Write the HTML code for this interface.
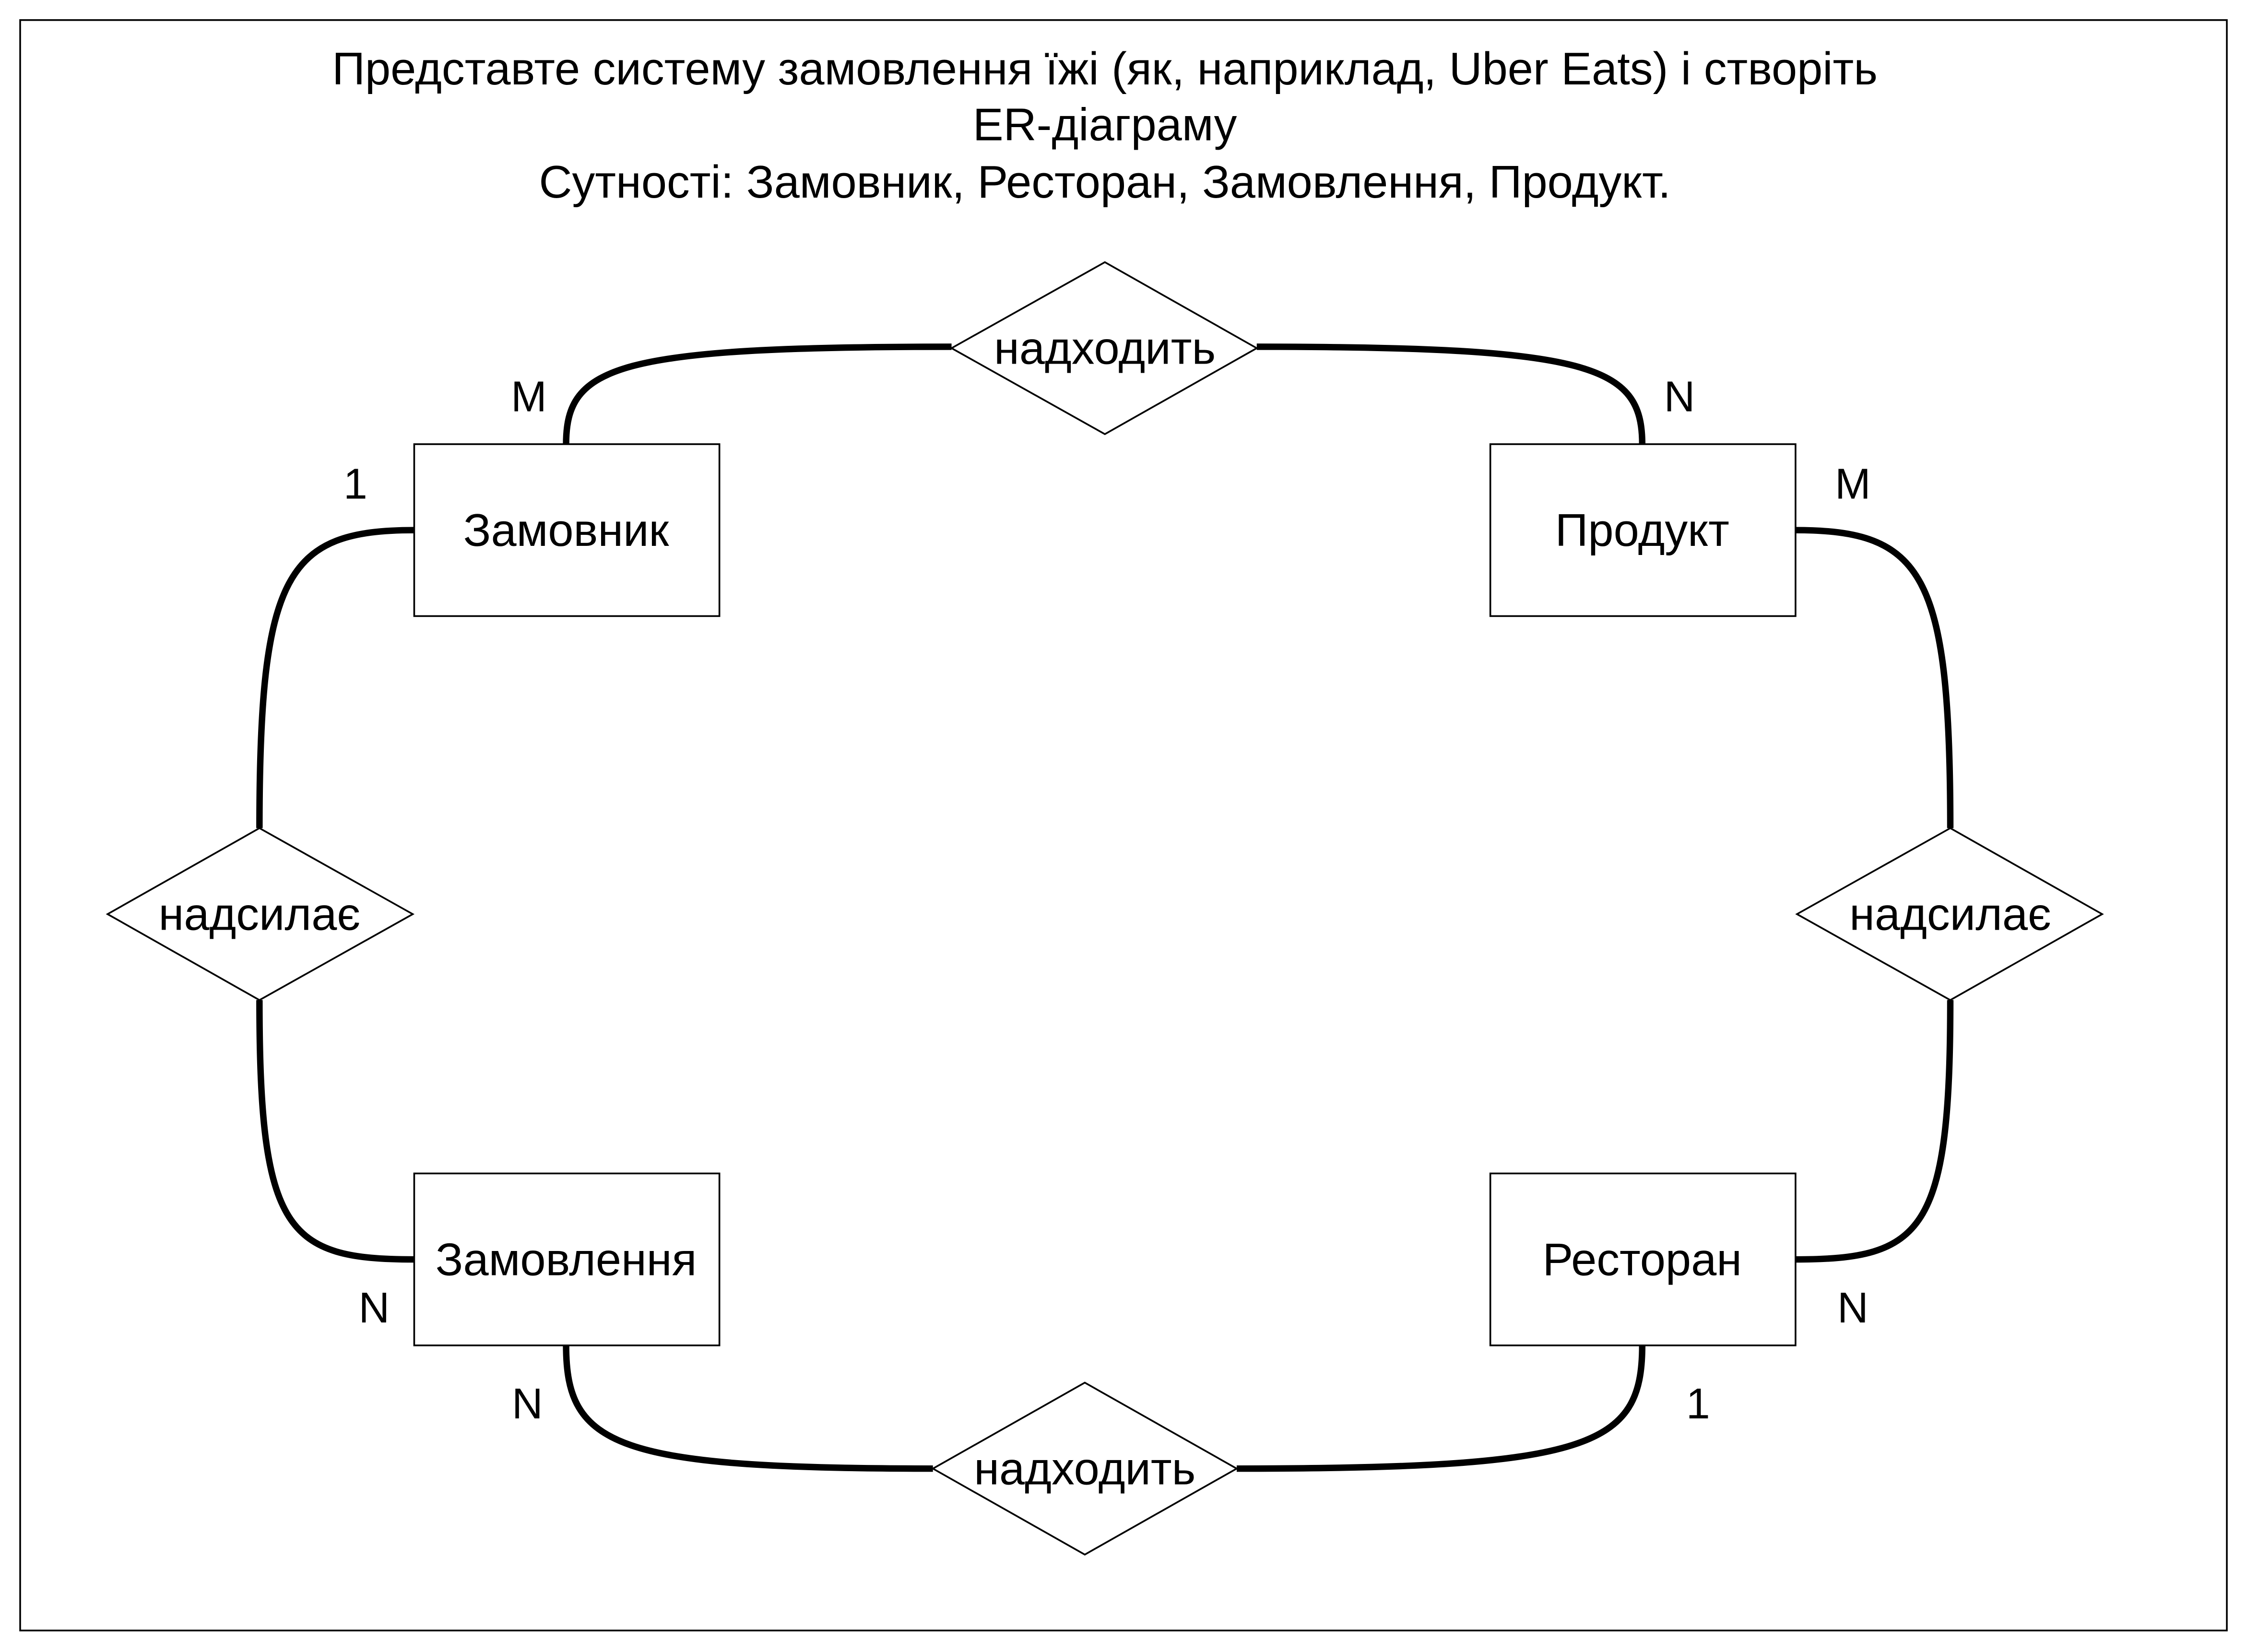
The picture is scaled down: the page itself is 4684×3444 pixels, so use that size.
<!DOCTYPE html>
<html><head><meta charset="utf-8"><style>html,body{margin:0;padding:0;background:#fff}svg{display:block}</style></head>
<body>
<svg width="4684" height="3444" viewBox="0 0 1568 1153" xmlns="http://www.w3.org/2000/svg" font-family="Liberation Sans, DejaVu Sans, sans-serif">
<rect x="0" y="0" width="1568" height="1153" fill="#fff"/>
<rect x="14" y="14" width="1540" height="1124" fill="none" stroke="#000" stroke-width="1.2"/>
<g font-size="32" text-anchor="middle" fill="#000">
<text x="771" y="59">Представте систему замовлення їжі (як, наприклад, Uber Eats) і створіть</text>
<text x="771" y="98">ER-діаграму</text>
<text x="771" y="138">Сутності: Замовник, Ресторан, Замовлення, Продукт.</text>
</g>
<g fill="none" stroke="#000" stroke-width="4.5">
<path d="M395,310 C395,255 430,242 664,242"/>
<path d="M877,242 C1110,242 1146,255 1146,310"/>
<path d="M289,370 C200,370 181,400 181,578"/>
<path d="M181,698 C181,860 200,879 289,879"/>
<path d="M1253,370 C1342,370 1361,400 1361,578"/>
<path d="M1361,698 C1361,860 1342,879 1253,879"/>
<path d="M395,939 C395,1010 430,1025 651,1025"/>
<path d="M863,1025 C1110,1025 1146,1010 1146,939"/>
</g>
<g fill="#fff" stroke="#000" stroke-width="1.2">
<rect x="289" y="310" width="213" height="120"/>
<rect x="1040" y="310" width="213" height="120"/>
<rect x="289" y="819" width="213" height="120"/>
<rect x="1040" y="819" width="213" height="120"/>
<polygon points="771,183 877,243 771,303 664,243"/>
<polygon points="757,965 863,1025 757,1085 651,1025"/>
<polygon points="181,578 288,638 181,698 75,638"/>
<polygon points="1361,578 1467,638 1361,698 1254,638"/>
</g>
<g font-size="32" text-anchor="middle" fill="#000">
<text x="395" y="381">Замовник</text>
<text x="1146" y="381">Продукт</text>
<text x="395" y="890">Замовлення</text>
<text x="1146" y="890">Ресторан</text>
<text x="771" y="254">надходить</text>
<text x="757" y="1036">надходить</text>
<text x="181" y="649">надсилає</text>
<text x="1361" y="649">надсилає</text>
</g>
<g font-size="30" text-anchor="middle" fill="#000">
<text x="369" y="287">M</text>
<text x="1172" y="287">N</text>
<text x="248" y="348">1</text>
<text x="1293" y="348">M</text>
<text x="261" y="923">N</text>
<text x="1293" y="923">N</text>
<text x="368" y="990">N</text>
<text x="1185" y="990">1</text>
</g>
</svg>
</body></html>
